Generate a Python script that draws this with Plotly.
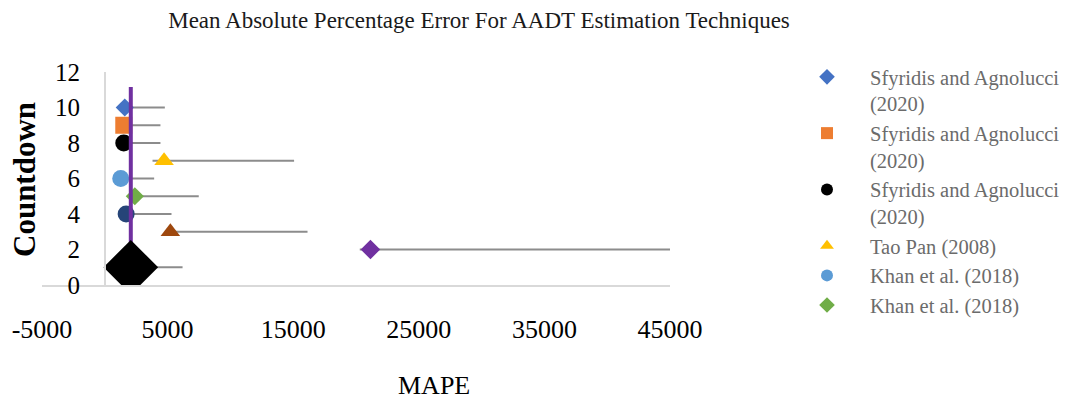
import plotly.graph_objects as go

# --- DATA ---
series_names = [
    "Sfyridis and Agnolucci<br>(2020)",
    "Sfyridis and Agnolucci<br>(2020)",
    "Sfyridis and Agnolucci<br>(2020)",
    "Tao Pan (2008)",
    "Khan et al. (2018)",
    "Khan et al. (2018)",
    "Series 7",
    "Series 8",
    "Series 9",
    "Series 10",
]
mape = [1590, 1510, 1510, 4720, 1270, 2390, 1700, 5220, 21150, 2070]
countdown = [10, 9, 8, 7, 6, 5, 4, 3, 2, 1]
err_plus = [3190, 2920, 2920, 10350, 2660, 5090, 3610, 10920, 23900, 4120]
err_minus = [0, 0, 0, 920, 0, 0, 0, 0, 850, 0]
in_legend = [True, True, True, True, True, True, False, False, False, False]
# vertical bar on the last point (upwards)
last_up = 10.15

x_ticks = [-5000, 5000, 15000, 25000, 35000, 45000]
x_ticklabels = ["-5000", "5000", "15000", "25000", "35000", "45000"]
y_ticks = [0, 2, 4, 6, 8, 10, 12]

symbols = ["diamond", "square", "circle", "triangle-up", "circle",
           "diamond", "circle", "triangle-up", "diamond", "diamond"]
colors = ["#4472C4", "#ED7D31", "#000000", "#FFC000", "#5B9BD5",
          "#70AD47", "#264478", "#9E480E", "#7030A0", "#000000"]
sizes = [14, 17, 17, 17, 17, 14, 17, 17, 15, 42]

FONT = "Liberation Serif"
W, H = 1069, 402
L, R, T, B = 42, 399, 72, 117

fig = go.Figure()
for i in range(len(mape)):
    ey = None
    if i == len(mape) - 1:
        ey = dict(type="data", symmetric=False, array=[last_up], arrayminus=[0],
                  color="#7030A0", thickness=4, width=0)
    fig.add_trace(go.Scatter(
        x=[mape[i]], y=[countdown[i]],
        mode="markers",
        name=series_names[i],
        showlegend=in_legend[i],
        marker=dict(symbol=symbols[i], color=colors[i], size=sizes[i]),
        error_x=dict(type="data", symmetric=False, array=[err_plus[i]],
                     arrayminus=[err_minus[i]], color="#8C8C8C",
                     thickness=2, width=0),
        error_y=ey,
    ))

y_pos = (105 - L) / (W - L - R)

fig.update_layout(
    width=W, height=H,
    margin=dict(l=L, r=R, t=T, b=B),
    paper_bgcolor="white", plot_bgcolor="white",
    font=dict(family=FONT, color="#000000"),
    title=dict(text="Mean Absolute Percentage Error For AADT Estimation Techniques",
               x=479 / W, xanchor="center", y=1 - 20 / H, yanchor="middle",
               font=dict(family=FONT, size=23, color="#1a1a1a")),
    xaxis=dict(range=[-5000, 45000], tickvals=x_ticks, ticktext=x_ticklabels,
               showgrid=False, zeroline=False, automargin=False,
               showline=True, linecolor="#D9D9D9", linewidth=2,
               ticks="", tickfont=dict(family=FONT, size=26), ticklabelstandoff=20),
    yaxis=dict(range=[0, 12], tickvals=y_ticks, showgrid=False, zeroline=False,
               anchor="free", position=y_pos, automargin=False,
               showline=True, linecolor="#D9D9D9", linewidth=2,
               ticks="", tickfont=dict(family=FONT, size=25), ticklabelstandoff=19),
    legend=dict(xref="container", yref="container", x=784 / W, y=1 - 57 / H,
                xanchor="left", yanchor="top", valign="top", maxheight=400,
                itemsizing="constant",
                font=dict(family=FONT, size=20.5, color="#6b6b6b"), itemwidth=76),
    annotations=[
        dict(text="MAPE", xref="paper", yref="paper", showarrow=False,
             x=(434 - L) / (W - L - R), y=-(385 - 285) / (285 - 72),
             xanchor="center", yanchor="middle",
             font=dict(family=FONT, size=26)),
        dict(text="<b>Countdown</b>", xref="paper", yref="paper", showarrow=False,
             x=-(L - 24) / (W - L - R), y=(285 - 180) / (285 - 72), textangle=-90,
             xanchor="center", yanchor="middle",
             font=dict(family=FONT, size=31)),
    ],
)

# page body has a default 8px margin; drop it so the figure sits at the corner
fig.write_html("out.html", config={"displayModeBar": False},
               post_script="document.body.style.margin='0';")
